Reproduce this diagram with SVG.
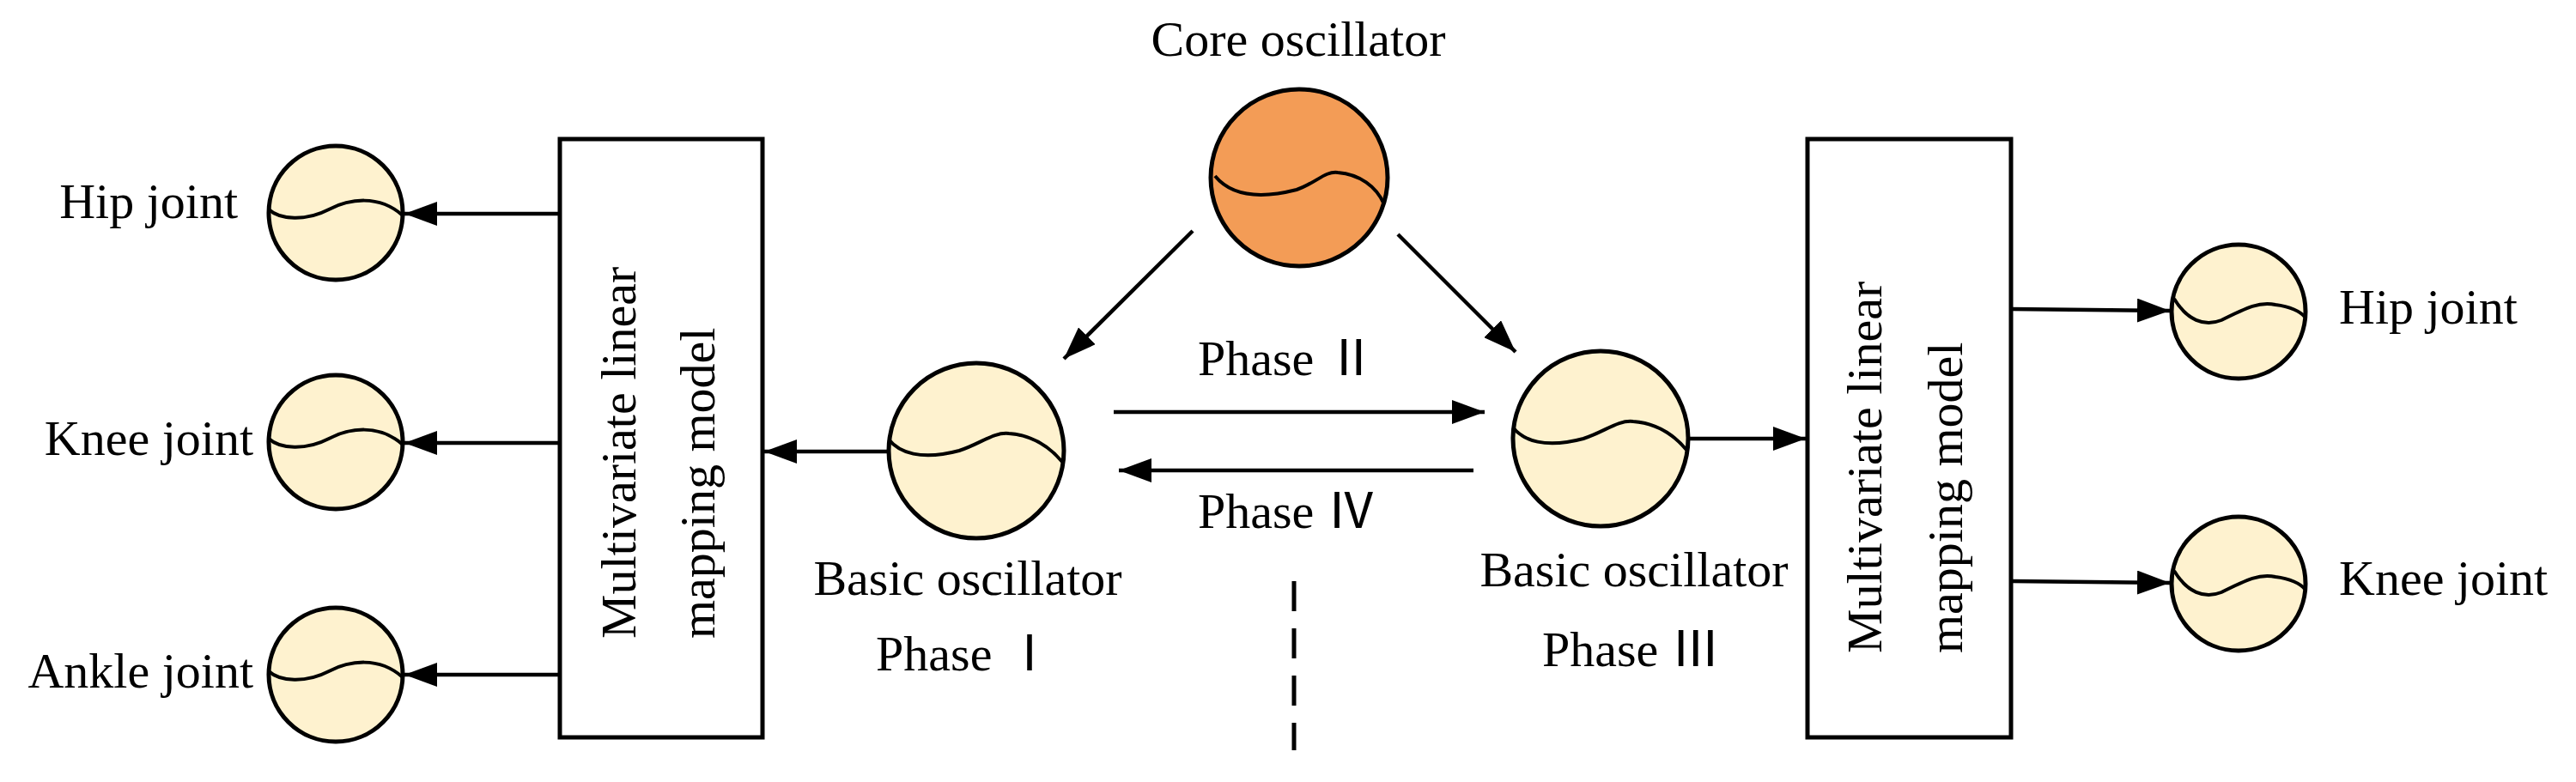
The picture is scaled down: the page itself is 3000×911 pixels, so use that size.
<svg xmlns="http://www.w3.org/2000/svg" width="3000" height="911" viewBox="0 0 3000 911">
<style>
text{font-family:"Times New Roman","Liberation Serif","Noto Sans CJK SC",serif;font-size:58px;fill:#000}
.osc{fill:#FEF2CF;stroke:#000;stroke-width:5}
.core{fill:#F39C56;stroke:#000;stroke-width:5}
.wave{fill:none;stroke:#000;stroke-width:4}
.box{fill:#fff;stroke:#000;stroke-width:5}
.ln{stroke:#000;stroke-width:4.5;fill:none;marker-end:url(#ah)}
</style>
<defs>
<marker id="ah" markerUnits="userSpaceOnUse" markerWidth="40" markerHeight="28" refX="38" refY="14" orient="auto"><path d="M0,0 L38,14 L0,28 Z" fill="#000"/></marker>
<path id="sw" d="M-78,-4 C-65,8 -35,10 -8,-4 C15,-16 50,-22 78,3" class="wave"/>
<path id="bw" d="M-102,-13 C-90,2 -65,12 -20,0 C5,-8 20,-22 38,-20 C65,-18 85,-5 100,13" class="wave"/>
</defs>
<g id="connectors">
<line class="ln" x1="652" y1="249" x2="471" y2="249"/>
<line class="ln" x1="652" y1="516" x2="471" y2="516"/>
<line class="ln" x1="652" y1="786" x2="471" y2="786"/>
<line class="ln" x1="1035" y1="526" x2="890" y2="526"/>
<line class="ln" x1="1389" y1="269" x2="1239" y2="418"/>
<line class="ln" x1="1628" y1="273" x2="1765" y2="410"/>
<line class="ln" x1="1297" y1="480" x2="1729" y2="480"/>
<line class="ln" x1="1716" y1="548" x2="1303" y2="548"/>
<line class="ln" x1="1966" y1="511" x2="2103" y2="511"/>
<line class="ln" x1="2342" y1="360" x2="2527" y2="362"/>
<line class="ln" x1="2342" y1="677" x2="2527" y2="679"/>
<line x1="1507" y1="677" x2="1507" y2="874" stroke="#000" stroke-width="5" stroke-dasharray="35,20"/>
</g>
<g id="hipL"><circle class="osc" cx="391" cy="248" r="78"/><use href="#sw" x="391" y="248"/><text x="277" y="254" text-anchor="end">Hip joint</text></g>
<g id="kneeL"><circle class="osc" cx="391" cy="515" r="78"/><use href="#sw" x="391" y="515"/><text x="295" y="530" text-anchor="end">Knee joint</text></g>
<g id="ankleL"><circle class="osc" cx="391" cy="786" r="78"/><use href="#sw" x="391" y="786"/><text x="295" y="801" text-anchor="end">Ankle joint</text></g>
<g id="boxL"><rect class="box" x="652" y="162" width="236" height="697"/>
<text transform="translate(740,744) rotate(-90)">Multivariate linear</text>
<text transform="translate(832,744) rotate(-90)">mapping model</text></g>
<g id="core"><circle class="core" cx="1513" cy="207" r="103"/><path class="wave" d="M-98,-2 C-80,20 -50,26 -3,14 C20,6 30,-8 45,-6 C70,-4 90,10 99,31" transform="translate(1513,207)"/><text x="1512" y="65" text-anchor="middle">Core oscillator</text></g>
<g id="basicL"><circle class="osc" cx="1137" cy="525" r="102"/><use href="#bw" x="1137" y="525"/><text x="1127" y="693" text-anchor="middle">Basic oscillator</text><text x="1124" y="781" text-anchor="middle">Phase Ⅰ</text></g>
<g id="basicR"><circle class="osc" cx="1864" cy="511" r="102"/><use href="#bw" x="1864" y="511"/><text x="1903" y="683" text-anchor="middle">Basic oscillator</text><text x="1796" y="776">Phase Ⅲ</text></g>
<text x="1395" y="437">Phase Ⅱ</text>
<text x="1395" y="615">Phase Ⅳ</text>
<g id="boxR"><rect class="box" x="2105" y="162" width="237" height="697"/>
<text transform="translate(2191,761) rotate(-90)">Multivariate linear</text>
<text transform="translate(2285,761) rotate(-90)">mapping model</text></g>
<g id="hipR"><circle class="osc" cx="2607" cy="363" r="78"/><path class="wave" d="M-75,-15 C-60,10 -40,18 -20,10 C10,-5 25,-12 43,-8 C60,-6 72,0 77,6" transform="translate(2607,363)"/><text x="2724" y="377">Hip joint</text></g>
<g id="kneeR"><circle class="osc" cx="2607" cy="680" r="78"/><path class="wave" d="M-75,-15 C-60,10 -40,18 -20,10 C10,-5 25,-12 43,-8 C60,-6 72,0 77,6" transform="translate(2607,680)"/><text x="2724" y="693">Knee joint</text></g>
</svg>
